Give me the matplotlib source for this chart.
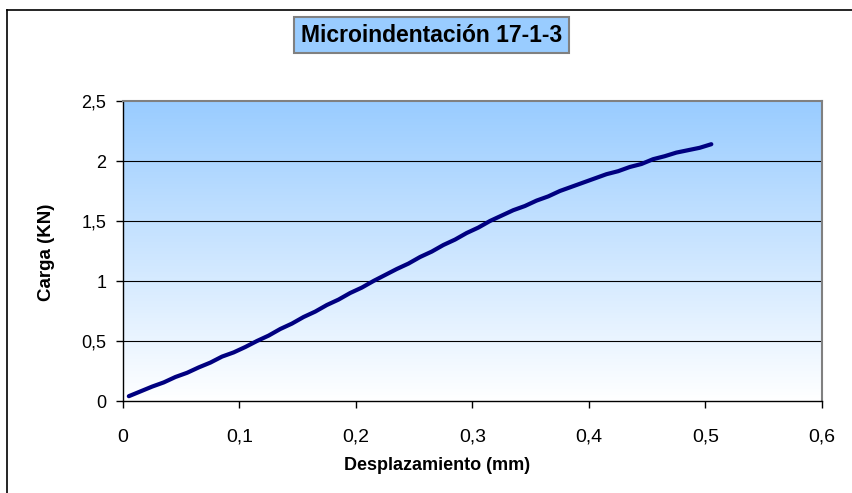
import matplotlib
matplotlib.use("Agg")
import matplotlib.pyplot as plt
import numpy as np
from matplotlib.lines import Line2D

title = "Microindentación 17-1-3"
xlabel = "Desplazamiento (mm)"
ylabel = "Carga (KN)"

desplazamiento = [0.005, 0.015, 0.025, 0.035, 0.045, 0.055, 0.065, 0.075, 0.085, 0.095,
                  0.105, 0.115, 0.125, 0.135, 0.145, 0.155, 0.165, 0.175, 0.185, 0.195,
                  0.205, 0.215, 0.225, 0.235, 0.245, 0.255, 0.265, 0.275, 0.285, 0.295,
                  0.305, 0.315, 0.325, 0.335, 0.345, 0.355, 0.365, 0.375, 0.385, 0.395,
                  0.405, 0.415, 0.425, 0.435, 0.445, 0.455, 0.465, 0.475, 0.485, 0.495, 0.505]
carga = [0.04, 0.08, 0.12, 0.155, 0.20, 0.235, 0.28, 0.32, 0.37, 0.405,
         0.45, 0.50, 0.545, 0.60, 0.645, 0.70, 0.745, 0.80, 0.845, 0.90,
         0.945, 1.00, 1.05, 1.10, 1.145, 1.20, 1.245, 1.30, 1.345, 1.40,
         1.445, 1.50, 1.545, 1.59, 1.625, 1.67, 1.705, 1.75, 1.785, 1.82,
         1.855, 1.89, 1.915, 1.95, 1.975, 2.015, 2.04, 2.07, 2.09, 2.11, 2.14]

xticks = [0, 0.1, 0.2, 0.3, 0.4, 0.5, 0.6]
xticklabels = ["0", "0,1", "0,2", "0,3", "0,4", "0,5", "0,6"]
yticks = [0, 0.5, 1, 1.5, 2, 2.5]
yticklabels = ["0", "0,5", "1", "1,5", "2", "2,5"]

plt.rcParams['font.family'] = ['Liberation Sans', 'DejaVu Sans']

W, H = 853, 493
fig = plt.figure(figsize=(W/100, H/100), dpi=100)
fig.patch.set_facecolor('white')

L, R, T, B = 123, 822, 101, 401
ax = fig.add_axes([L/W, 1 - B/H, (R-L)/W, (B-T)/H])

# gradient background
grad = np.linspace(0, 1, 256).reshape(-1, 1)
top = np.array([153, 204, 255]) / 255.0
bot = np.array([255, 255, 255]) / 255.0
img = bot[None, None, :] * (1 - grad[:, :, None]) + top[None, None, :] * grad[:, :, None]
ax.imshow(img, extent=[0, 1, 0, 1], transform=ax.transAxes, aspect='auto',
          origin='lower', zorder=0)

ax.set_xlim(0, 0.6)
ax.set_ylim(0, 2.5)
ax.set_xticks(xticks)
ax.set_xticklabels(xticklabels, fontsize=14)
ax.set_yticks(yticks)
ax.set_yticklabels(yticklabels, fontsize=13)
ax.tick_params(axis='x', direction='out', length=5, width=1, color='black', pad=15)
ax.tick_params(axis='y', direction='out', length=5, width=1, color='black', pad=7)

for yv in yticks[1:-1]:
    ax.axhline(yv, color='black', lw=0.8, zorder=1)

ax.plot(desplazamiento, carga, color='#000080', lw=3, zorder=3,
        solid_capstyle='round')

for s in ['top', 'right']:
    ax.spines[s].set_color('#808080')
    ax.spines[s].set_linewidth(1.5)
for s in ['left', 'bottom']:
    ax.spines[s].set_color('black')
    ax.spines[s].set_linewidth(1.0)

fig.text(437/W, 1 - 465/H, xlabel, fontsize=13, fontweight='bold', ha='center', va='center')
fig.text(47/W, 1 - 252/H, ylabel, fontsize=13.5, fontweight='bold', ha='center', va='center',
         rotation=90)

fig.text(432/W, 1 - 35/H, title, fontsize=16.5, fontweight='bold', ha='center', va='center',
         bbox=dict(boxstyle='square,pad=0.3', facecolor='#99CCFF', edgecolor='#808080', lw=1.5))

# figure border (top and left)
fig.add_artist(Line2D([7/W, 1], [1 - 10/H, 1 - 10/H], color='black', lw=1.2, transform=fig.transFigure))
fig.add_artist(Line2D([7/W, 7/W], [0, 1 - 10/H], color='black', lw=1.2, transform=fig.transFigure))

fig.savefig("out.png", dpi=100)
